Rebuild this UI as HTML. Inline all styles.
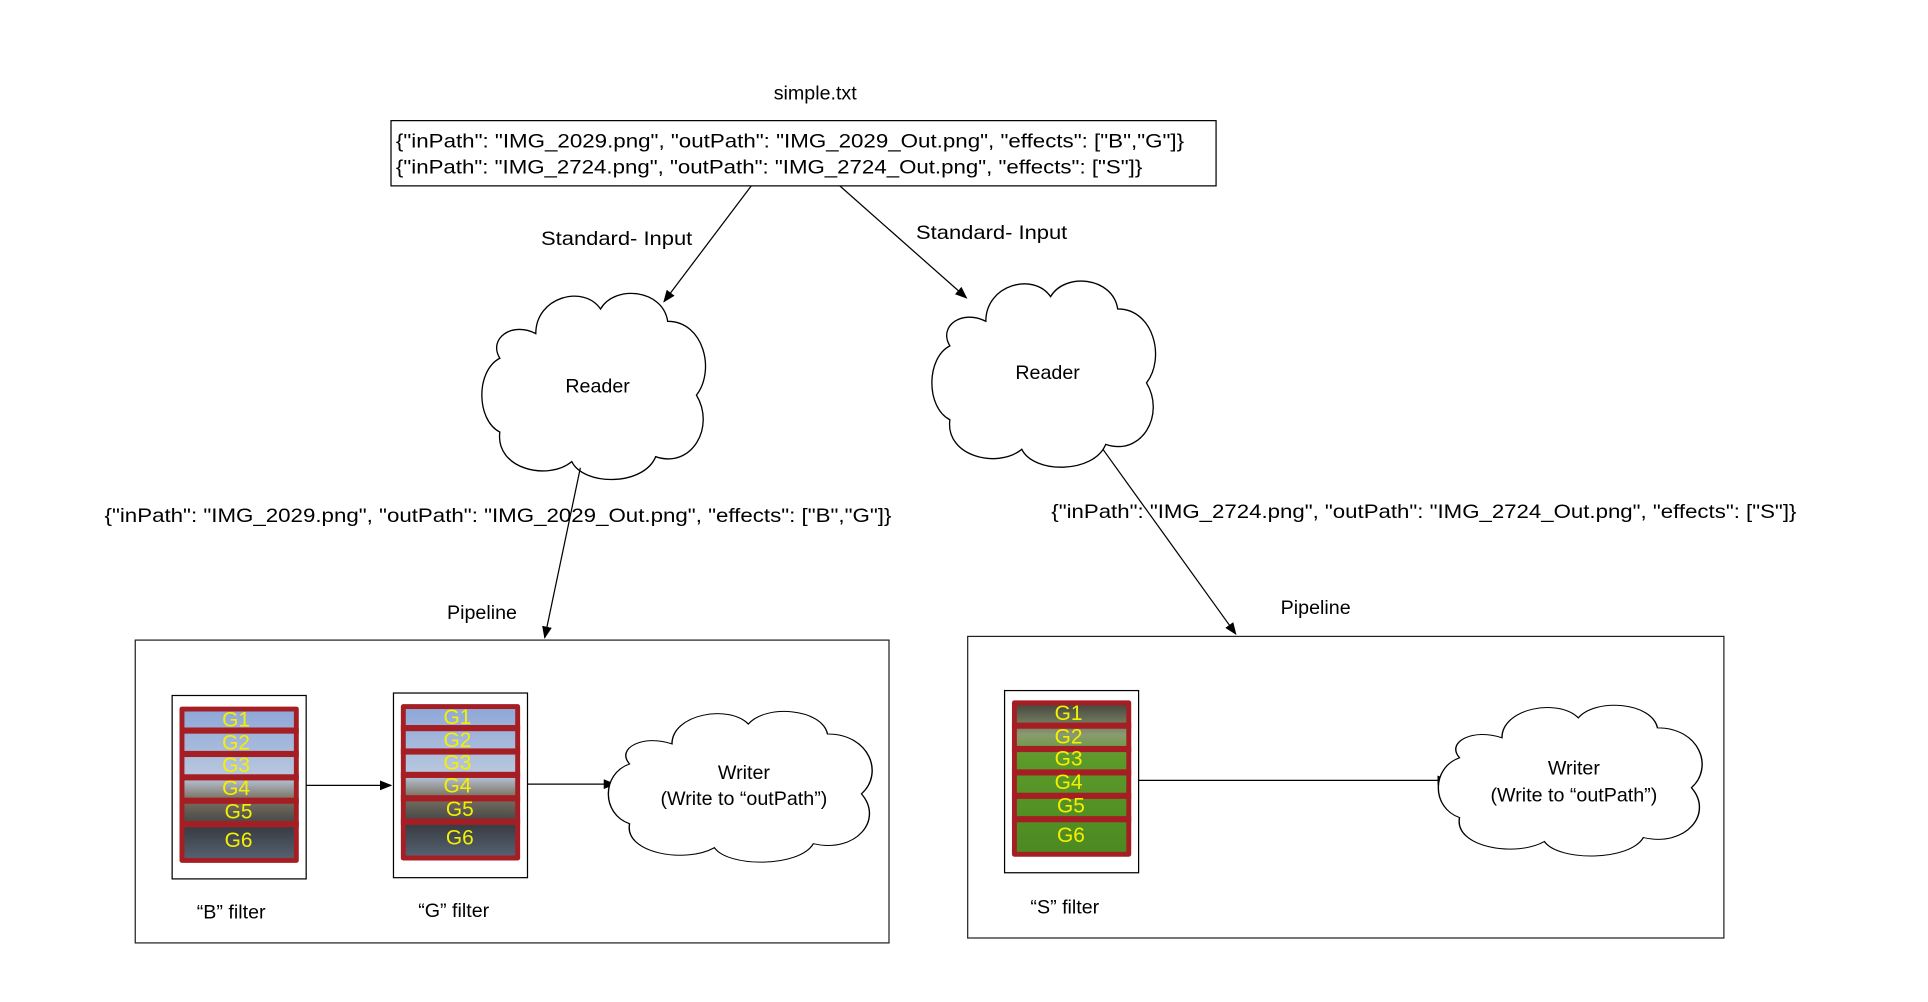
<!DOCTYPE html>
<html><head><meta charset="utf-8"><style>
html,body{margin:0;padding:0;background:#fff;}
svg{display:block;}
text{font-family:"Liberation Sans",Arial,sans-serif;fill:#000;}
.g{fill:#f5f000;font-size:17px;text-anchor:middle;}
</style></head><body>
<svg width="1928" height="1002" viewBox="0 0 1568 814" preserveAspectRatio="none" xmlns="http://www.w3.org/2000/svg">
<defs>
<marker id="ah" markerWidth="10" markerHeight="8" refX="9" refY="4" orient="auto" markerUnits="userSpaceOnUse">
<path d="M0,0 L10,4 L0,8 Z" fill="#000"/></marker>
<path id="cloud" d="M25,20 C25,5 45,0 52,10 C58,0 78,2 80,15 C95,15 100,35 92,45 C100,58 90,75 75,70 C70,82 45,82 40,72 C30,80 8,75 10,60 C0,55 0,35 10,30 C5,22 15,15 25,20 Z"/>
<linearGradient id="sky" x1="0" y1="0" x2="0" y2="1">
<stop offset="0" stop-color="#8fa8d8"/><stop offset="0.45" stop-color="#b9c8de"/><stop offset="0.6" stop-color="#7a7060"/><stop offset="0.8" stop-color="#3a3e44"/><stop offset="1" stop-color="#556070"/></linearGradient>
<linearGradient id="grass" x1="0" y1="0" x2="0" y2="1">
<stop offset="0" stop-color="#4a4a40"/><stop offset="0.2" stop-color="#8a9a70"/><stop offset="0.35" stop-color="#5c9a2a"/><stop offset="1" stop-color="#4c8a22"/></linearGradient>
</defs>

<text x="663" y="81" font-size="16" text-anchor="middle">simple.txt</text>
<rect x="318" y="98" width="671" height="53" fill="#fff" stroke="#000" stroke-width="1"/>
<text x="322" y="120" font-size="16" textLength="641" lengthAdjust="spacingAndGlyphs">{"inPath": "IMG_2029.png", "outPath": "IMG_2029_Out.png", "effects": ["B","G"]}</text>
<text x="322" y="141" font-size="16" textLength="607" lengthAdjust="spacingAndGlyphs">{"inPath": "IMG_2724.png", "outPath": "IMG_2724_Out.png", "effects": ["S"]}</text>

<line x1="611" y1="151" x2="540" y2="245" stroke="#000" marker-end="url(#ah)"/>
<text x="440" y="199" font-size="16" textLength="123" lengthAdjust="spacingAndGlyphs">Standard- Input</text>
<line x1="683" y1="151" x2="786" y2="242" stroke="#000" marker-end="url(#ah)"/>
<text x="745" y="194" font-size="16" textLength="123" lengthAdjust="spacingAndGlyphs">Standard- Input</text>

<use href="#cloud" transform="translate(387,231) scale(1.95,2.0)" fill="#fff" stroke="#000" stroke-width="0.55"/>
<text x="486" y="319" font-size="16" text-anchor="middle">Reader</text>
<use href="#cloud" transform="translate(753,221) scale(1.95,2.0)" fill="#fff" stroke="#000" stroke-width="0.55"/>
<text x="852" y="308" font-size="16" text-anchor="middle">Reader</text>

<line x1="472" y1="380" x2="443" y2="518" stroke="#000" marker-end="url(#ah)"/>
<text x="85" y="424" font-size="16" textLength="640" lengthAdjust="spacingAndGlyphs">{"inPath": "IMG_2029.png", "outPath": "IMG_2029_Out.png", "effects": ["B","G"]}</text>
<line x1="897" y1="365" x2="1005" y2="515" stroke="#000" marker-end="url(#ah)"/>
<text x="855" y="421" font-size="16" textLength="606" lengthAdjust="spacingAndGlyphs">{"inPath": "IMG_2724.png", "outPath": "IMG_2724_Out.png", "effects": ["S"]}</text>

<text x="392" y="503" font-size="16" text-anchor="middle">Pipeline</text>
<text x="1070" y="499" font-size="16" text-anchor="middle">Pipeline</text>

<rect x="110" y="520" width="613" height="246" fill="none" stroke="#222" stroke-width="1"/>
<rect x="787" y="517" width="615" height="245" fill="none" stroke="#222" stroke-width="1"/>

<g transform="translate(140,565)">
<rect x="0" y="0" width="109" height="149" fill="#fff" stroke="#000"/>
<rect x="6" y="9" width="97" height="127" fill="#a51e24" rx="2"/>
<rect x="10" y="13" width="89" height="119" fill="url(#sky)"/>
<g fill="#a51e24"><rect x="6" y="26" width="97" height="5"/><rect x="6" y="45" width="97" height="5"/><rect x="6" y="64" width="97" height="5"/><rect x="6" y="83" width="97" height="5"/><rect x="6" y="102" width="97" height="5"/></g>
<text class="g" x="52" y="25">G1</text><text class="g" x="52" y="44">G2</text><text class="g" x="52" y="62">G3</text><text class="g" x="52" y="81">G4</text><text class="g" x="54" y="100">G5</text><text class="g" x="54" y="123">G6</text>
</g>
<g transform="translate(320,563)">
<rect x="0" y="0" width="109" height="150" fill="#fff" stroke="#000"/>
<rect x="6" y="9" width="97" height="127" fill="#a51e24" rx="2"/>
<rect x="10" y="13" width="89" height="119" fill="url(#sky)"/>
<g fill="#a51e24"><rect x="6" y="26" width="97" height="5"/><rect x="6" y="45" width="97" height="5"/><rect x="6" y="64" width="97" height="5"/><rect x="6" y="83" width="97" height="5"/><rect x="6" y="102" width="97" height="5"/></g>
<text class="g" x="52" y="25">G1</text><text class="g" x="52" y="44">G2</text><text class="g" x="52" y="62">G3</text><text class="g" x="52" y="81">G4</text><text class="g" x="54" y="100">G5</text><text class="g" x="54" y="123">G6</text>
</g>
<g transform="translate(817,561)">
<rect x="0" y="0" width="109" height="148" fill="#fff" stroke="#000"/>
<rect x="6" y="8" width="97" height="127" fill="#a51e24" rx="2"/>
<rect x="10" y="12" width="89" height="119" fill="url(#grass)"/>
<g fill="#a51e24"><rect x="6" y="26" width="97" height="5"/><rect x="6" y="45" width="97" height="5"/><rect x="6" y="64" width="97" height="5"/><rect x="6" y="83" width="97" height="5"/><rect x="6" y="102" width="97" height="5"/></g>
<text class="g" x="52" y="24">G1</text><text class="g" x="52" y="43">G2</text><text class="g" x="52" y="61">G3</text><text class="g" x="52" y="80">G4</text><text class="g" x="54" y="99">G5</text><text class="g" x="54" y="123">G6</text>
</g>

<line x1="249" y1="638" x2="318" y2="638" stroke="#000" marker-end="url(#ah)"/>
<line x1="429" y1="637" x2="500" y2="637" stroke="#000" marker-end="url(#ah)"/>
<line x1="926" y1="634" x2="1178" y2="634" stroke="#000" marker-end="url(#ah)"/>

<use href="#cloud" transform="translate(489,572) scale(2.3,1.62)" fill="#fff" stroke="#000" stroke-width="0.5"/>
<text x="605" y="633" font-size="16" text-anchor="middle">Writer</text>
<text x="605" y="654" font-size="16" text-anchor="middle">(Write to “outPath”)</text>
<use href="#cloud" transform="translate(1164,567) scale(2.3,1.62)" fill="#fff" stroke="#000" stroke-width="0.5"/>
<text x="1280" y="629" font-size="16" text-anchor="middle">Writer</text>
<text x="1280" y="651" font-size="16" text-anchor="middle">(Write to “outPath”)</text>

<text x="188" y="746" font-size="16" text-anchor="middle">“B” filter</text>
<text x="369" y="745" font-size="16" text-anchor="middle">“G” filter</text>
<text x="866" y="742" font-size="16" text-anchor="middle">“S” filter</text>
</svg>
</body></html>
